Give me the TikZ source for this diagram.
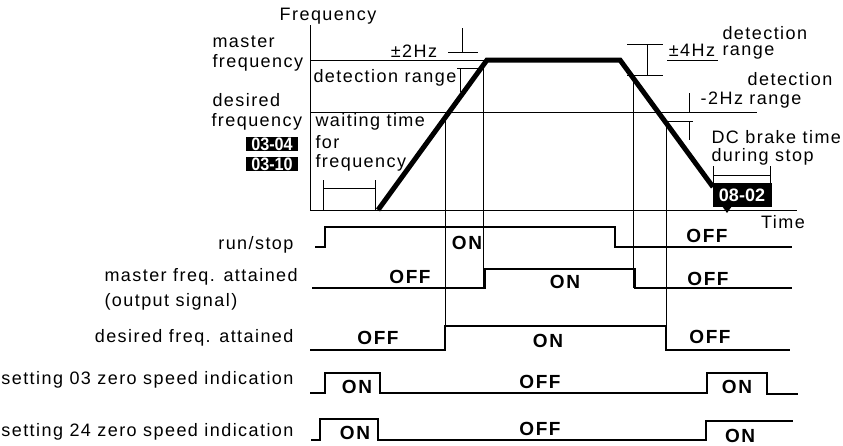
\documentclass[tikz,border=0pt]{standalone}
\usepackage{fontspec}
\setmainfont{Liberation Sans}[LetterSpace=8]
\usetikzlibrary{positioning}

\begin{document}
\begin{tikzpicture}[x=1pt, y=-1pt, font=\fontsize{18}{20}\selectfont,
    thinline/.style={line width=0.9pt},
    ramp/.style={line width=5pt, line join=miter},
    wave/.style={line width=2.6pt, line join=miter},
    state/.style={font=\fontsize{19}{20}\selectfont\bfseries},
    codebox/.style={fill=black, text=white, inner sep=0pt,
      font=\fontsize{18}{18}\selectfont\bfseries\addfontfeatures{LetterSpace=0},
      minimum width=52pt, minimum height=14pt}]
  \useasboundingbox (0,0) rectangle (843,445);

  % frequency diagram
  \draw[thinline] (310,25) -- (310,210) -- (797,210);
  \node (freqlbl) at (328,16) {Frequency};
  \node (timelbl) at (783,222) {Time};
  \draw[thinline] (310,60) -- (487,60);
  \draw[thinline] (310,112) -- (757,112);
  \draw[thinline] (667,60) -- (718,60);
  \node[anchor=west] (mst1) at (209,42) {master};
  \node[anchor=west] (mst2) at (209,63) {frequency};
  \node[anchor=west] (des1) at (209,100) {desired};
  \node[anchor=west] (des2) at (208,122) {frequency};
  \node[codebox] (p0304) at (272,144) {\scalebox{0.9}[1]{03-04}};
  \node[codebox] (p0310) at (272,164) {\scalebox{0.9}[1]{03-10}};
  \node[anchor=west] (detl) at (310,78) {detection range};
  \node[anchor=west] (wait1) at (312,122) {waiting time};
  \node[anchor=west] (wait2) at (312,142) {for};
  \node[anchor=west] (wait3) at (312,163) {frequency};

  % +-2Hz marks
  \draw[thinline] (448,52) -- (478,52) (462,28) -- (462,52);
  \draw[thinline] (457,68) -- (480,68) (460,68) -- (460,92);
  \node (pm2) at (414,51) {±2Hz};
  % +-4Hz marks
  \draw[thinline] (627,44) -- (663,44) (647,44) -- (647,75) (627,75) -- (663,75);
  \node (pm4) at (692,50) {±4Hz};
  \node[anchor=west] (det4a) at (719,33) {detection};
  \node[anchor=west] (det4b) at (719,53) {range};
  % -2Hz marks
  \draw[thinline] (689,93) -- (689,112) (667,121) -- (693,121) (689,121) -- (689,140);
  \node (det2a) at (790,79) {detection};
  \node (det2b) at (751,100) {-2Hz range};
  % DC brake
  \node[anchor=west] (dc1) at (708,137) {DC brake time};
  \node[anchor=west] (dc2) at (708,157) {during stop};
  \draw[thinline] (713,166) -- (713,187) (770,166) -- (770,187) (713,175) -- (770,175);
  \node[codebox, minimum width=59pt, minimum height=24pt] (p0802) at (742,195) {08-02};
  \fill (722,206) -- (732,206) -- (727,213) -- cycle;
  % waiting time
  \draw[thinline] (323,180) -- (323,210) (375,180) -- (375,210) (323,188) -- (375,188);

  % guide lines
  \draw[thinline] (445,112) -- (445,326);
  \draw[thinline] (483,67) -- (483,288);
  \draw[thinline] (633,78) -- (633,288);
  \draw[thinline] (666,121) -- (666,350);

  \draw[ramp] (378,210) -- (487,60) -- (620,60) -- (713,187);

  % signals
  \node[anchor=east] (runlbl) at (297,245) {run/stop};
  \draw[wave] (315,247) -- (325,247) -- (325,227) -- (615,227) -- (615,247) -- (792,247);
  \node[state] (run1) at (467,243) {ON};
  \node[state] (run2) at (707,236) {OFF};

  \node[anchor=west] (mfa1) at (101,277) {master freq. attained};
  \node[anchor=west] (mfa2) at (101,302) {(output signal)};
  \draw[wave] (312,288) -- (485,288) -- (485,269) -- (635,269) -- (635,288) -- (792,288);
  \node[state] (mfa3) at (410,277) {OFF};
  \node[state] (mfa4) at (565,282) {ON};
  \node[state] (mfa5) at (708,279) {OFF};

  \node[anchor=east] (dfalbl) at (297,338) {desired freq. attained};
  \draw[wave] (310,350) -- (445,350) -- (445,326) -- (666,326) -- (666,350) -- (790,350);
  \node[state] (dfa1) at (378,338) {OFF};
  \node[state] (dfa2) at (548,341) {ON};
  \node[state] (dfa3) at (710,337) {OFF};

  \node[anchor=east] (s03lbl) at (297,380) {setting 03 zero speed indication};
  \draw[wave] (310,393) -- (325,393) -- (325,373) -- (380,373) -- (380,393) -- (707,393)
    -- (707,373) -- (767,373) -- (767,394) -- (798,394);
  \node[state] (s03a) at (357,387) {ON};
  \node[state] (s03b) at (540,382) {OFF};
  \node[state] (s03c) at (737,387) {ON};

  \node[anchor=east] (s24lbl) at (297,432) {setting 24 zero speed indication};
  \draw[wave] (311,440) -- (320,440) -- (320,419) -- (378,419) -- (378,440) -- (706,440)
    -- (706,421) -- (793,421);
  \node[state] (s24a) at (355,433) {ON};
  \node[state] (s24b) at (540,429) {OFF};
  \node[state] (s24c) at (740,436) {ON};
\end{tikzpicture}
\end{document}
